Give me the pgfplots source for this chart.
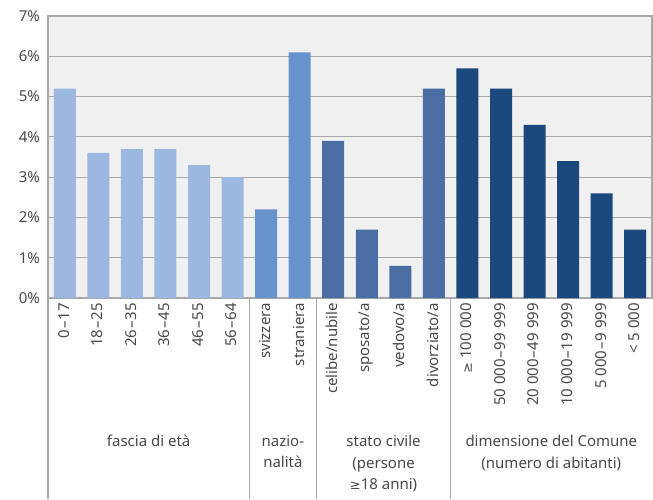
\documentclass[border=0pt]{standalone}
\usepackage{fontspec}
\setmainfont{Noto Sans}
\newfontfamily\symf{DejaVu Sans}
\usepackage{pgfplots}
\pgfplotsset{compat=1.18}

\definecolor{cage}{HTML}{9CB8E0}
\definecolor{cnat}{HTML}{6892CC}
\definecolor{cciv}{HTML}{4A6DA4}
\definecolor{ccom}{HTML}{1B487D}
\definecolor{bgc}{HTML}{F0F0F0}
\definecolor{gridc}{HTML}{A8A8A8}
\definecolor{txt}{HTML}{484848}

\newcommand{\gesym}{{\symf\fontsize{13}{15}\selectfont ≥}}
\newcommand{\da}{\kern0.8pt–\kern0.8pt}

\begin{document}
\fontsize{15}{22}\selectfont
\begin{tikzpicture}
  \path[use as bounding box] (-48pt,-201pt) rectangle (605pt,298pt);
  \begin{axis}[
    at={(0pt,0pt)}, anchor=south west,
    scale only axis,
    width=604pt, height=282pt,
    xmin=-0.5, xmax=17.5,
    ymin=0, ymax=7,
    ybar, bar width=22pt, bar shift=0pt,
    axis background/.style={fill=bgc},
    axis line style={draw=gridc, line width=1.2pt},
    ytick={0,...,7},
    yticklabels={0\%,1\%,2\%,3\%,4\%,5\%,6\%,7\%},
    ymajorgrids, major grid style={draw=gridc, line width=1.2pt},
    major tick length=0pt,
    xtick={0,...,17},
    xticklabels={0\da17,18\da25,26\da35,36\da45,46\da55,56\da64,
      svizzera,straniera,
      celibe/nubile,sposato/a,vedovo/a,divorziato/a,
      {\gesym\ 100 000},50 000\da99 999,20 000\da49 999,10 000\da19 999,5 000\da9 999,< 5 000},
    x tick label style={rotate=90, anchor=east, yshift=1pt},
    tick label style={text=txt, font=\fontsize{15}{17}\selectfont},
    y tick label style={xshift=-3pt},
    clip=false,
  ]
    \addplot[draw=none, fill=cage] coordinates {(0,5.2) (1,3.6) (2,3.7) (3,3.7) (4,3.3) (5,3.0)};
    \addplot[draw=none, fill=cnat] coordinates {(6,2.2) (7,6.1)};
    \addplot[draw=none, fill=cciv] coordinates {(8,3.9) (9,1.7) (10,0.8) (11,5.2)};
    \addplot[draw=none, fill=ccom] coordinates {(12,5.7) (13,5.2) (14,4.3) (15,3.4) (16,2.6) (17,1.7)};

    \draw[gridc, line width=1.2pt] (axis cs:-0.5,0) -- ([yshift=-201pt]axis cs:-0.5,0);
    \draw[gridc, line width=1.2pt] (axis cs:5.5,0) -- ([yshift=-201pt]axis cs:5.5,0);
    \draw[gridc, line width=1.2pt] (axis cs:7.5,0) -- ([yshift=-201pt]axis cs:7.5,0);
    \draw[gridc, line width=1.2pt] (axis cs:11.5,0) -- ([yshift=-201pt]axis cs:11.5,0);
    \begin{scope}[every node/.style={text=txt, align=center, anchor=north, inner sep=0pt,
        font=\fontsize{15}{21.5}\selectfont}]
      \node at ([yshift=-137pt]axis cs:2.5,0) {fascia di età};
      \node at ([yshift=-137pt]axis cs:6.5,0) {nazio-\\nalità};
      \node at ([yshift=-137pt]axis cs:9.5,0) {stato civile\\(persone\\\gesym18 anni)};
      \node at ([yshift=-137pt]axis cs:14.5,0) {dimensione del Comune\\(numero di abitanti)};
    \end{scope}
  \end{axis}
\end{tikzpicture}
\end{document}
